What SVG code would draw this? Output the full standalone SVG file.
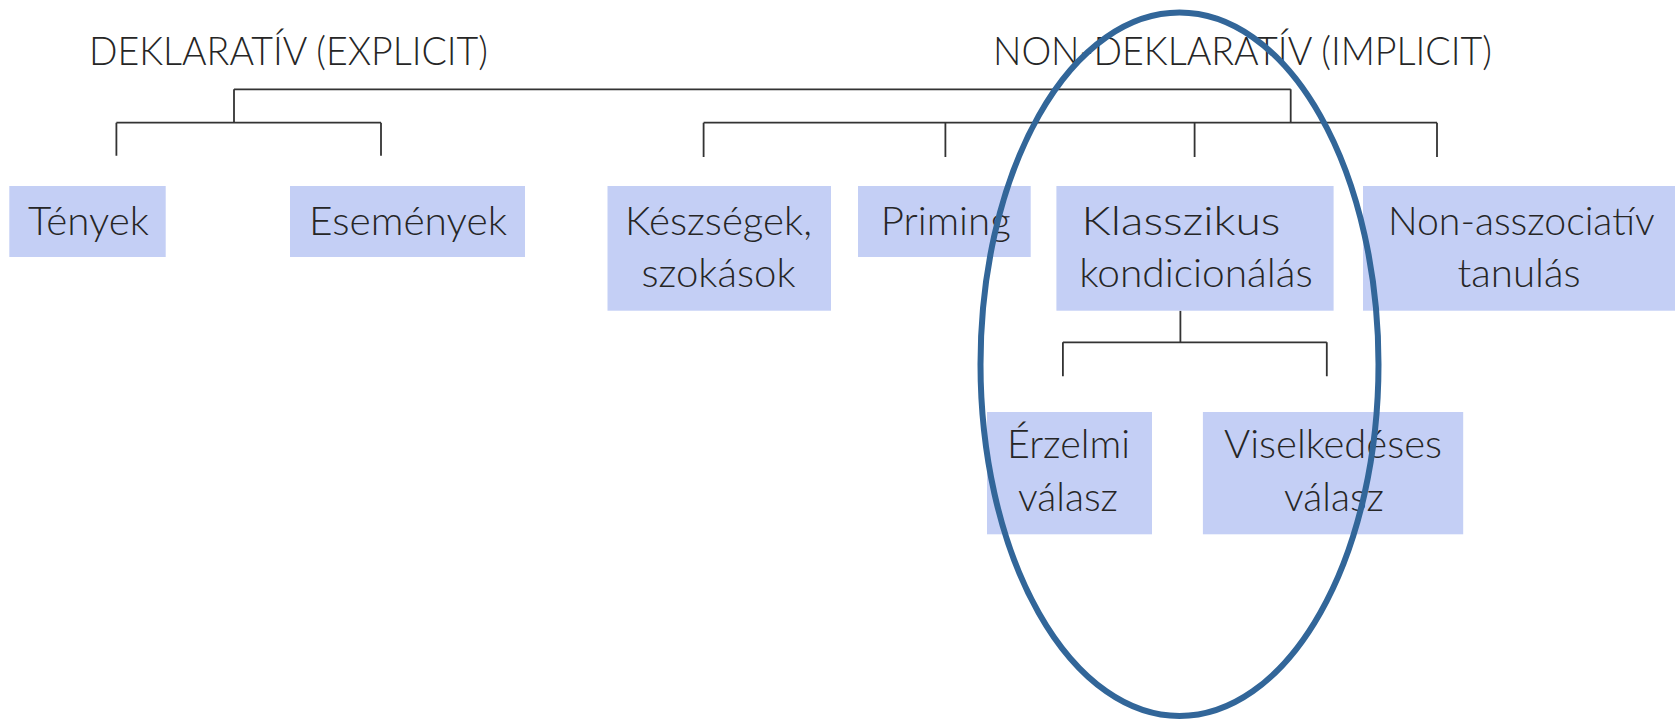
<svg xmlns="http://www.w3.org/2000/svg" width="1679" height="722" viewBox="0 0 1679 722">
<style>
.box{fill:#C4CFF5;}
.t{font-family:Lato,"Open Sans","Liberation Sans",sans-serif;font-weight:300;font-size:39px;fill:#262626;text-anchor:middle;}
.h{font-family:Lato,"Open Sans","Liberation Sans",sans-serif;font-weight:300;font-size:39px;fill:#262626;text-anchor:start;}
.c{fill:none;stroke:#333;stroke-width:1.8;}
</style>
<rect width="1679" height="722" fill="#fff"/>
<g id="headers">
<text class="h" x="89" y="65" textLength="399" lengthAdjust="spacingAndGlyphs">DEKLARATÍV (EXPLICIT)</text>
<text class="h" x="993" y="65" textLength="499" lengthAdjust="spacingAndGlyphs">NON-DEKLARATÍV (IMPLICIT)</text>
</g>
<g id="connectors" class="c">
<path d="M234,89.3 H1290.7 M234,89.3 V122.7 M1290.7,89.3 V122.7"/>
<path d="M116.4,122.7 H381 M116.4,122.7 V155.7 M381,122.7 V155.7"/>
<path d="M703.6,122.7 H1437 M703.6,122.7 V157 M945.4,122.7 V157 M1194.6,122.7 V157 M1437,122.7 V157"/>
<path d="M1180.4,310.7 V342.3 M1062.9,342.3 H1326.8 M1062.9,342.3 V376.3 M1326.8,342.3 V376.3"/>
</g>
<g id="tenyek">
<rect class="box" x="9.3" y="186" width="156.4" height="71"/>
<text class="t" x="88.5" y="235" textLength="121" lengthAdjust="spacingAndGlyphs">Tények</text>
</g>
<g id="esemenyek">
<rect class="box" x="290" y="186" width="235" height="71"/>
<text class="t" x="408" y="235" textLength="198" lengthAdjust="spacingAndGlyphs">Események</text>
</g>
<g id="keszsegek">
<rect class="box" x="607.5" y="186" width="223.5" height="124.7"/>
<text class="t" x="718.5" y="235" textLength="187" lengthAdjust="spacingAndGlyphs">Készségek,</text>
<text class="t" x="718.5" y="287" textLength="154" lengthAdjust="spacingAndGlyphs">szokások</text>
</g>
<g id="priming">
<rect class="box" x="858" y="186" width="172.7" height="71"/>
<text class="t" x="945.7" y="235" textLength="130" lengthAdjust="spacingAndGlyphs">Priming</text>
</g>
<g id="klasszikus">
<rect class="box" x="1056.4" y="186" width="277.2" height="124.7"/>
<text class="t" x="1181" y="235" textLength="199" lengthAdjust="spacingAndGlyphs">Klasszikus</text>
<text class="t" x="1196" y="287" textLength="233.5" lengthAdjust="spacingAndGlyphs">kondicionálás</text>
</g>
<g id="nonasszociativ">
<rect class="box" x="1363" y="186" width="312" height="124.7"/>
<text class="t" x="1521.3" y="235" textLength="266.6" lengthAdjust="spacingAndGlyphs">Non-asszociatív</text>
<text class="t" x="1519" y="287" textLength="123" lengthAdjust="spacingAndGlyphs">tanulás</text>
</g>
<g id="erzelmi">
<rect class="box" x="987" y="412" width="165" height="122.3"/>
<text class="t" x="1068.5" y="458.3" textLength="123" lengthAdjust="spacingAndGlyphs">Érzelmi</text>
<text class="t" x="1068" y="511" textLength="100" lengthAdjust="spacingAndGlyphs">válasz</text>
</g>
<g id="viselkedeses">
<rect class="box" x="1202.9" y="412" width="260.3" height="122.3"/>
<text class="t" x="1333" y="458.3" textLength="218" lengthAdjust="spacingAndGlyphs">Viselkedéses</text>
<text class="t" x="1334" y="511" textLength="100" lengthAdjust="spacingAndGlyphs">válasz</text>
</g>
<g id="highlight">
<ellipse cx="1179.5" cy="364.3" rx="199" ry="351.7" fill="none" stroke="#326699" stroke-width="6"/>
</g>
</svg>
